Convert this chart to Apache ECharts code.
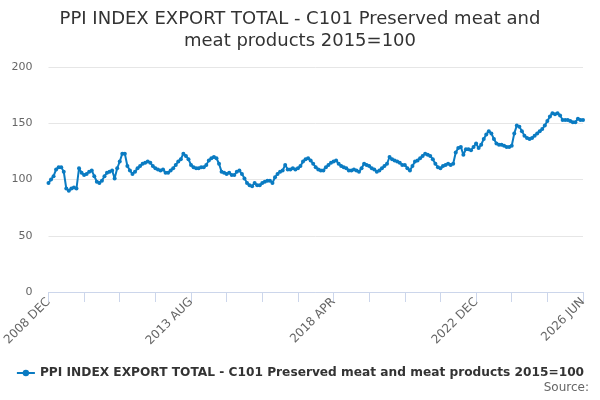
<!DOCTYPE html>
<html>
<head>
<meta charset="utf-8">
<script src="https://cdn.jsdelivr.net/npm/echarts@6/dist/echarts.min.js"></script>
<style>html,body{margin:0;padding:0;background:#fff}#c{width:600px;height:400px}</style>
</head>
<body>
<div id="c"></div>
<script>
const seriesName = 'PPI INDEX EXPORT TOTAL - C101 Preserved meat and meat products 2015=100';
const startYear = 2008, startMonth = 11; // December (0-based)
const monthNames = ['JAN','FEB','MAR','APR','MAY','JUN','JUL','AUG','SEP','OCT','NOV','DEC'];
const values = [
 97,100,103,109,111,111,107,92,90,92,
 93,92,110,106,104,105,107,108,103,98,
 97,99,103,106,107,108,101,110,116,123,
 123,112,108,105,107,110,112,114,115,116,
 115,112,110,109,108,109,106,106,108,110,
 113,116,118,123,121,118,113,111,110,110,
 111,111,113,117,119,120,119,114,107,106,
 105,106,104,104,107,108,105,101,97,95,
 94,97,95,95,97,98,99,99,97,102,
 105,107,108,113,109,109,110,109,110,112,
 116,118,119,117,114,111,109,108,108,111,
 113,115,116,117,114,112,111,110,108,108,
 109,108,107,110,114,113,112,110,109,107,
 108,110,112,114,120,118,117,116,115,113,
 113,110,108,112,116,117,119,121,123,122,
 121,118,114,111,110,112,113,114,113,114,
 124,128,129,122,127,127,126,129,132,128,
 131,136,140,143,141,136,132,131,131,130,
 129,129,130,141,148,147,143,139,137,136,
 137,139,141,143,145,148,152,156,159,158,
 159,157,153,153,153,152,151,151,154,153,
 153
];
const categories = [];
for (let i = 0; i < values.length; i++) {
  const m = startMonth + i;
  categories.push((startYear + Math.floor(m / 12)) + ' ' + monthNames[m % 12]);
}
const yTicks = [0, 50, 100, 150, 200];
const labelStep = 56, tickStep = 14;

const chart = echarts.init(document.getElementById('c'), null, {renderer: 'canvas'});
chart.setOption({
  animation: false,
  textStyle: {fontFamily: 'DejaVu Sans'},
  title: {
    text: 'PPI INDEX EXPORT TOTAL - C101 Preserved meat and\nmeat products 2015=100',
    left: 'center', top: 3,
    textStyle: {fontSize: 18, fontWeight: 'normal', color: '#333333', lineHeight: 22, fontFamily: 'DejaVu Sans'}
  },
  graphic: [{
    type: 'text', right: 11, top: 382,
    style: {text: 'Source:', fontSize: 12, fill: '#666666', fontFamily: 'DejaVu Sans'}
  }],
  legend: {
    bottom: 16, left: 'center',
    itemWidth: 18, itemHeight: 8, itemGap: 6,
    textStyle: {fontSize: 12.2, fontWeight: 'bold', color: '#333333', fontFamily: 'DejaVu Sans'},
    data: [seriesName]
  },
  grid: {left: 47, right: 17, top: 67, bottom: 108, containLabel: false},
  xAxis: {
    type: 'category', data: categories, boundaryGap: false,
    axisLine: {lineStyle: {color: '#ccd6eb'}},
    axisTick: {show: true, length: 10, lineStyle: {color: '#ccd6eb'},
      interval: (idx) => idx % tickStep === 0},
    axisLabel: {
      rotate: 45, color: '#666666', fontSize: 12, margin: 8,
      interval: (idx) => idx % labelStep === 0 || idx === values.length - 1
    },
    splitLine: {show: false}
  },
  yAxis: {
    type: 'value', min: yTicks[0], max: yTicks[yTicks.length - 1], interval: 50,
    axisLine: {show: false}, axisTick: {show: false},
    axisLabel: {color: '#666666', fontSize: 11, margin: 16},
    splitLine: {lineStyle: {color: '#e6e6e6'}}
  },
  series: [{
    name: seriesName, type: 'line', data: values,
    symbol: 'circle', symbolSize: 4, showSymbol: true, showAllSymbol: true,
    lineStyle: {width: 2, color: '#0a7bc2'},
    itemStyle: {color: '#0a7bc2'}
  }]
});
</script>
</body>
</html>
